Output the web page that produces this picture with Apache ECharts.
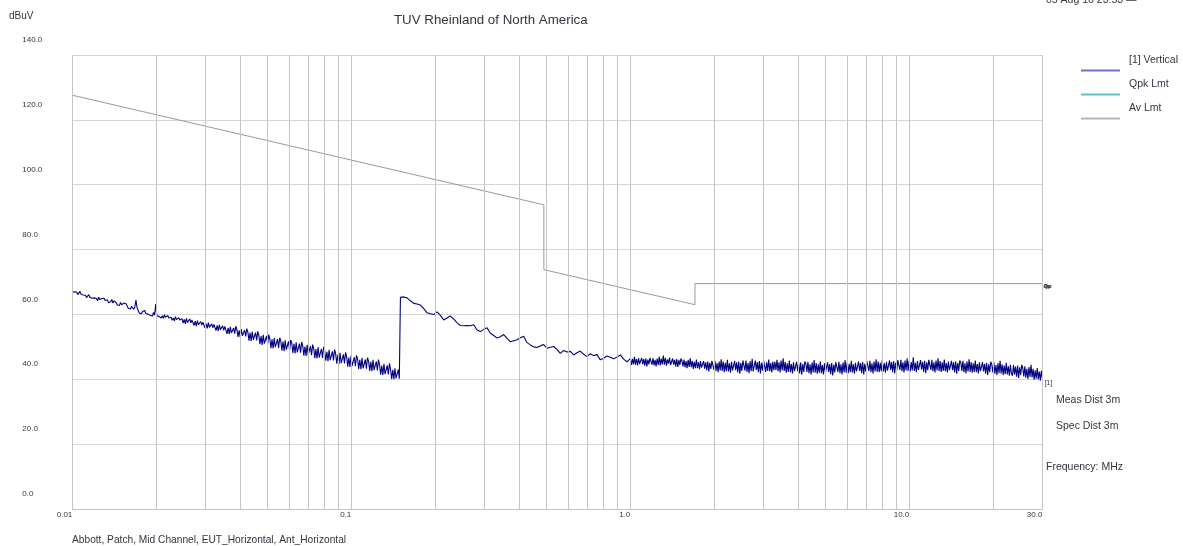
<!DOCTYPE html>
<html>
<head>
<meta charset="utf-8">
<title>Radiated emissions 0.01 - 30 MHz</title>
<script src="https://cdn.jsdelivr.net/npm/echarts@6/dist/echarts.min.js"></script>
<style>
  html, body { margin: 0; padding: 0; background: #ffffff; }
  #chart { width: 1183px; height: 546px; }
</style>
</head>
<body>
<div id="chart"></div>
<script>
const FONT = '"Liberation Sans", Arial, Helvetica, sans-serif';
const TEXT = '#34343f';

// Level axis (dBuV)
const levelMin = 0;
const levelMax = 140;
const levelStep = 20;

// Frequency axis (MHz)
const freqMin = 0.01;
const freqMax = 30;
const freqTickValues = [0.01, 0.1, 1, 10, 30];
const freqTickLabels = ['0.01', '0.1', '1.0', '10.0', '30.0'];
const freqGridLines = [
  0.01, 0.02, 0.03, 0.04, 0.05, 0.06, 0.07, 0.08, 0.09,
  0.1, 0.2, 0.3, 0.4, 0.5, 0.6, 0.7, 0.8, 0.9,
  1, 2, 3, 4, 5, 6, 7, 8, 9,
  10, 20, 30
];

// Limit line (dBuV/m at 3 m)
const limitFreqs  = [0.01, 0.49, 0.49, 1.705, 1.705, 30];
const limitLevels = [127.6, 93.8, 73.8, 63.0, 69.5, 69.5];

// Sweep 1: 0.01 - 0.15 MHz, log-spaced points
const sweep1Range = [0.01, 0.15];
const sweep1Levels = [
  66.8,66.3,67.0,66.5,66.9,66.1,66.6,67.1,66.2,66.7,
  66.0,65.4,65.9,65.2,65.7,66.1,65.3,65.8,65.0,65.5,
  65.1,64.5,64.9,64.2,65.3,64.6,64.3,64.9,64.4,65.0,
  64.3,63.7,64.5,63.6,64.1,63.9,64.6,63.5,64.2,63.8,
  63.6,62.9,63.4,62.8,63.7,63.0,62.7,63.5,62.9,63.3,
  62.6,61.9,62.4,61.7,62.5,62.0,61.6,62.3,64.4,62.1,
  61.3,60.4,61.0,60.2,60.9,60.5,61.2,60.3,60.8,60.1,
  60.4,59.7,60.3,59.5,60.6,59.8,63.2,59.6,60.2,59.4,
  59.8,58.9,59.6,58.8,59.9,59.1,58.7,59.7,58.9,59.5,
  59.1,58.2,58.9,58.0,59.3,58.4,58.1,59.0,58.3,58.8,
  58.7,57.3,58.5,57.1,58.8,57.5,57.0,58.6,57.4,58.3,
  58.0,56.6,57.9,56.4,58.1,56.8,56.3,57.8,56.7,57.6,
  57.4,55.8,57.2,55.7,57.5,56.0,55.6,57.1,55.9,56.9,
  56.7,55.0,56.6,54.9,56.8,55.3,54.8,56.5,55.1,56.3,
  56.1,54.0,55.9,53.9,56.2,54.3,53.8,55.8,54.1,56.4,
  55.3,53.1,55.1,53.0,55.5,53.4,52.9,55.2,53.2,55.6,
  54.5,51.9,54.3,51.8,54.7,52.2,51.7,54.4,52.0,54.8,
  53.5,50.8,53.3,50.6,53.7,51.0,50.5,53.4,50.9,53.8,
  52.5,49.6,52.3,49.5,52.7,49.9,49.4,52.4,49.7,52.8,
  51.8,48.8,51.6,48.7,52.0,49.1,48.6,51.7,48.9,52.1,
  51.1,48.1,50.9,48.0,51.4,48.3,47.9,51.0,48.2,51.5,
  50.3,47.3,50.1,47.2,50.6,47.5,47.1,50.2,47.4,50.7,
  49.5,46.5,49.3,46.4,49.9,46.7,46.3,49.4,46.6,50.0,
  48.7,45.7,48.5,45.6,49.1,45.9,45.5,48.6,45.8,49.2,
  47.8,44.8,47.6,44.7,48.2,45.0,44.6,47.7,44.9,48.3,
  46.9,43.9,46.7,43.8,47.3,44.1,43.7,46.8,44.0,47.4,
  46.2,43.2,46.0,43.1,46.6,43.4,43.0,46.1,43.3,46.7,
  45.6,42.6,45.4,42.5,46.0,42.8,42.4,45.5,42.7,46.1,
  44.4,41.4,44.2,41.3,44.8,41.6,41.2,44.3,41.5,44.9,
  43.1,40.1,42.9,40.0,43.4,40.3,39.9,43.0,40.2,40.4
];

// Sweep 2: 0.15 - 1.0 MHz
const sweep2Range = [0.15, 1.0];
const sweep2Levels = [
  65.3,65.4,65.1,64.2,63.4,63.2,62.9,61.8,60.5,60.2,
  60.0,60.8,59.7,58.3,58.9,59.5,58.6,57.4,56.6,56.5,
  56.6,56.5,56.8,55.2,54.7,55.4,55.9,54.2,53.5,52.7,
  53.1,53.8,52.6,51.6,51.9,52.2,52.8,53.3,51.3,50.6,
  50.0,49.8,50.3,50.7,49.6,49.9,50.1,49.2,48.0,48.9,
  48.4,48.6,47.5,48.2,48.7,47.7,47.0,47.9,47.3,47.6,
  46.0,46.5,47.2,46.8,46.3,46.9,47.5,46.2,45.4,46.4
];

// Sweep 3: 1.0 - 30 MHz
const sweep3Range = [1.0, 30];
const sweep3Levels = [
  46.5,44.4,46.3,44.6,46.9,44.5,46.2,44.3,46.5,44.7,
  44.4,46.6,44.7,46.2,44.2,46.4,44.0,46.1,44.6,46.6,
  46.1,44.5,46.5,44.3,46.0,44.0,46.4,44.4,46.9,44.3,
  46.4,44.6,47.3,44.5,46.6,44.2,46.1,44.8,46.7,44.4,
  44.2,46.4,44.5,46.0,44.0,46.2,43.8,45.9,44.4,46.4,
  45.7,44.0,46.1,43.7,45.6,43.4,46.0,43.8,46.5,43.7,
  45.7,43.2,45.4,43.4,46.1,43.4,45.3,43.1,45.6,43.6,
  43.0,45.6,43.3,45.2,42.8,45.5,42.4,45.1,43.2,45.7,
  45.2,42.9,45.7,42.6,45.0,42.2,45.5,42.7,46.2,42.6,
  45.5,42.2,45.1,42.5,46.0,42.4,44.9,42.0,45.4,42.7,
  42.4,45.7,42.8,45.2,42.1,45.5,41.7,45.0,42.6,45.8,
  45.2,42.7,45.8,42.3,45.0,41.9,45.6,42.5,46.3,42.4,
  42.5,45.8,42.9,45.3,42.2,45.6,41.8,45.1,42.7,45.9,
  45.6,42.3,45.2,42.6,46.1,42.5,45.0,42.1,45.5,42.8,
  45.4,42.9,46.0,42.5,45.2,42.1,45.8,42.7,46.5,42.6,
  45.3,42.0,44.9,42.3,45.8,42.2,44.7,41.8,45.2,42.5,
  42.1,45.4,42.5,44.9,41.8,45.2,41.4,44.7,42.3,45.5,
  44.8,42.3,45.4,41.9,44.6,41.5,45.2,42.1,45.9,42.0,
  45.0,41.7,44.6,42.0,45.5,41.9,44.4,41.5,44.9,42.2,
  41.9,45.2,42.3,44.7,41.6,45.0,41.2,44.5,42.1,45.3,
  44.8,42.3,45.4,41.9,44.6,41.5,45.2,42.1,45.9,42.0,
  45.2,41.9,44.8,42.2,45.7,42.1,44.6,41.7,45.1,42.4,
  42.2,45.5,42.6,45.0,41.9,45.3,41.5,44.8,42.4,45.6,
  45.1,42.6,45.7,42.2,44.9,41.8,45.5,42.4,46.2,42.3,
  45.5,42.2,45.1,42.5,46.0,42.4,44.9,42.0,45.4,42.7,
  42.5,45.8,42.9,45.3,42.2,45.6,41.8,45.1,42.7,45.9,
  45.4,42.9,46.0,42.5,45.2,42.1,45.8,42.7,46.5,42.6,
  45.7,42.4,45.3,42.7,46.8,42.6,45.1,42.2,45.6,42.9,
  42.6,45.9,43.0,45.4,42.3,45.7,41.9,45.2,42.8,46.0,
  45.4,42.9,46.0,42.5,45.2,42.1,45.8,42.7,46.5,42.6,
  45.6,42.3,45.2,42.6,46.1,42.5,45.0,42.1,45.5,42.8,
  42.4,45.7,42.8,45.2,42.1,45.5,41.7,45.0,42.6,45.8,
  45.1,42.6,45.7,42.2,44.9,41.8,45.5,42.4,46.2,42.3,
  45.3,42.0,44.9,42.3,45.8,42.2,44.7,41.8,45.2,42.5,
  42.0,45.3,42.4,44.8,41.7,45.1,41.3,44.6,42.2,45.4,
  44.6,42.1,45.2,41.7,44.4,41.3,45.0,41.9,45.7,41.8,
  44.6,41.3,44.2,41.6,45.1,41.5,44.0,41.1,44.5,41.8,
  41.1,44.4,41.5,43.9,40.8,44.2,40.4,43.7,41.3,44.5,
  43.4,40.9,44.0,40.5,43.2,40.1,43.8,40.7,44.5,40.6,
  43.2,39.9,42.8,40.2,43.5,40.0,42.4,39.6,42.6,40.3
];

// Pair each level with its sweep frequency (points spaced evenly on the log scale)
function sweepPoints(range, levels) {
  const n = levels.length;
  const span = Math.log10(range[1] / range[0]);
  return levels.map((v, i) => [range[0] * Math.pow(10, span * i / (n - 1)), v]);
}

const traceData = []
  .concat(sweepPoints(sweep1Range, sweep1Levels))
  .concat(sweepPoints(sweep2Range, sweep2Levels))
  .concat(sweepPoints(sweep3Range, sweep3Levels));

const limitData = limitFreqs.map((f, i) => [f, limitLevels[i]]);

function freqLabel(v) {
  let best = 0;
  freqTickValues.forEach((t, i) => {
    if (Math.abs(Math.log10(t / v)) < Math.abs(Math.log10(freqTickValues[best] / v))) best = i;
  });
  return freqTickLabels[best];
}

function note(text, left, top, size) {
  return {
    text: text, left: left, top: top, padding: 0,
    textStyle: { fontFamily: FONT, fontSize: size, fontWeight: 'normal', color: TEXT }
  };
}

const chart = echarts.init(document.getElementById('chart'), null, { renderer: 'canvas' });

chart.setOption({
  animation: false,
  backgroundColor: '#ffffff',
  textStyle: { fontFamily: FONT },
  title: [
    note('TUV Rheinland of North America', 394, 14, 13.3),
    note('dBuV', 9, 11, 10),
    note('05 Aug 16 23:53 \u2014', 1046, -5, 10.5),
    note('Meas Dist 3m', 1056, 395, 10.5),
    note('Spec Dist 3m', 1056, 421, 10.5),
    note('Frequency: MHz', 1046, 462, 10.5),
    note('Abbott, Patch, Mid Channel, EUT_Horizontal, Ant_Horizontal', 72, 535, 10.2)
  ],
  legend: {
    orient: 'vertical',
    left: 1081,
    top: 55,
    padding: 0,
    itemGap: -1.5,
    itemWidth: 39,
    itemHeight: 2,
    icon: 'rect',
    selectedMode: false,
    // the name sits on its own line above the sample line
    formatter: name => '{t|' + name + '}\n{s| }',
    textStyle: {
      padding: [0, 0, 0, 4],
      rich: {
        t: { fontFamily: FONT, fontSize: 10.5, lineHeight: 11, color: TEXT },
        s: { fontSize: 9, lineHeight: 20 }
      }
    },
    data: [
      { name: '[1] Vertical', itemStyle: { color: '#7272c2', opacity: 1 } },
      { name: 'Qpk Lmt', itemStyle: { color: '#5cc4c4', opacity: 1 } },
      { name: 'Av Lmt', itemStyle: { color: '#b4b4b4', opacity: 1 } }
    ]
  },
  grid: { left: 72.3, right: 140.6, top: 55, bottom: 37, containLabel: false },
  xAxis: {
    type: 'log',
    logBase: 10,
    min: freqMin,
    max: freqMax,
    axisLine: { show: true, lineStyle: { color: '#c4c4c4', width: 1 } },
    axisTick: { show: false },
    splitLine: { show: false },
    axisLabel: {
      customValues: freqTickValues,
      formatter: freqLabel,
      align: 'right',
      margin: 2,
      fontFamily: FONT, fontSize: 8, color: TEXT
    }
  },
  yAxis: {
    type: 'value',
    min: levelMin,
    max: levelMax,
    interval: levelStep,
    axisLine: { show: false },
    axisTick: { show: false },
    splitLine: { show: true, lineStyle: { color: '#d6d6d6', width: 1 } },
    axisLabel: {
      // value printed above its grid line
      formatter: v => '{t|' + v.toFixed(1) + '}\n{s| }',
      align: 'left',
      margin: 50,
      rich: {
        t: { fontFamily: FONT, fontSize: 8, lineHeight: 10, color: TEXT },
        s: { fontSize: 8, lineHeight: 30 }
      }
    }
  },
  series: [
    {
      name: 'Qpk Lmt',
      type: 'line',
      data: limitData,
      symbol: 'none',
      silent: true,
      lineStyle: { color: '#5cc4c4', width: 1, opacity: 0 },
      itemStyle: { color: '#5cc4c4' },
      endLabel: {
        show: true, formatter: 'Qp', distance: 1, offset: [0, 3],
        fontFamily: FONT, fontSize: 6, fontWeight: 'bold', color: '#2a2a3a'
      },
      markLine: {
        silent: true,
        symbol: ['none', 'none'],
        label: { show: false },
        lineStyle: { color: '#c4c4c4', type: 'solid', width: 1, opacity: 1 },
        emphasis: { disabled: true },
        data: freqGridLines.map(f => ({ xAxis: f }))
      }
    },
    {
      name: 'Av Lmt',
      type: 'line',
      data: limitData,
      symbol: 'none',
      silent: true,
      lineStyle: { color: '#9a9a9a', width: 1 },
      itemStyle: { color: '#9a9a9a' },
      endLabel: {
        show: true, formatter: 'Av', distance: 1, offset: [0, 3],
        fontFamily: FONT, fontSize: 6, fontWeight: 'bold', color: '#2a2a3a'
      }
    },
    {
      name: '[1] Vertical',
      type: 'line',
      data: traceData,
      symbol: 'none',
      silent: true,
      sampling: null,
      lineStyle: { color: '#000080', width: 1.1 },
      itemStyle: { color: '#000080' },
      endLabel: {
        show: true, formatter: '[1]', distance: 2, offset: [0, 5],
        fontFamily: FONT, fontSize: 7, color: TEXT
      }
    }
  ]
});
</script>
</body>
</html>
